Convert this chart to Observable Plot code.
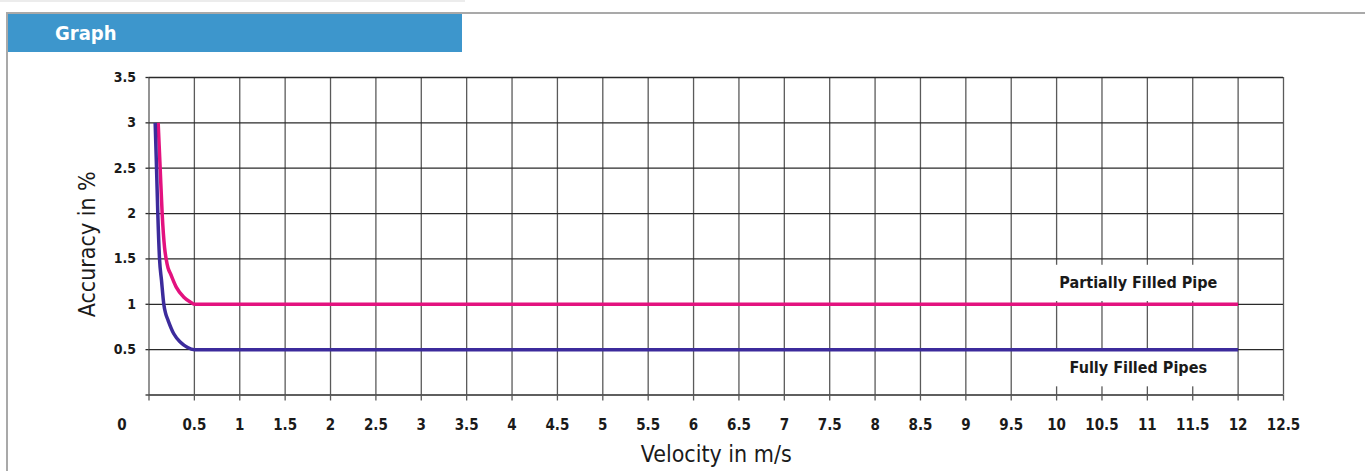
<!DOCTYPE html>
<html>
<head>
<meta charset="utf-8">
<script src="https://cdn.jsdelivr.net/npm/d3@7"></script>
<script src="https://cdn.jsdelivr.net/npm/@observablehq/plot@0.6"></script>
<style>
  html, body { margin: 0; padding: 0; background: #fff; }
  #wrap { position: relative; width: 1365px; height: 471px; overflow: hidden; font-family: "DejaVu Sans Condensed", "Liberation Sans Narrow", sans-serif; }
  #topline { position: absolute; left: 0; top: 0; width: 465px; height: 2px; background: #ececec; }
  #panel { position: absolute; left: 6px; top: 12px; right: 0; bottom: 0; border-top: 2px solid #a9a9a9; border-left: 2px solid #a9a9a9; }
  #header { position: absolute; left: 8px; top: 14px; width: 454px; height: 38px; background: #3d96cc; color: #fff; font-weight: bold; font-size: 20px; line-height: 38px; box-sizing: border-box; padding-left: 47px; }
  #chart { position: absolute; left: 0; top: 52px; }
</style>
</head>
<body>
<div id="wrap">
  <div id="topline"></div>
  <div id="panel"></div>
  <div id="header">Graph</div>
  <div id="chart"></div>
</div>
<script>
// Tick values
const xTicks = [0, 0.5, 1, 1.5, 2, 2.5, 3, 3.5, 4, 4.5, 5, 5.5, 6, 6.5, 7, 7.5, 8, 8.5, 9, 9.5, 10, 10.5, 11, 11.5, 12, 12.5];
const yTicks = [0, 0.5, 1, 1.5, 2, 2.5, 3, 3.5];

// Partially filled pipe
const partialX = [0.101, 0.123, 0.145, 0.172, 0.189, 0.21, 0.237, 0.30, 0.384, 0.458, 0.5, 12];
const partialY = [3.0, 2.5, 2.0, 1.62, 1.5, 1.40, 1.336, 1.189, 1.078, 1.023, 1.0, 1.0];

// Fully filled pipes
const fullX = [0.068, 0.083, 0.097, 0.116, 0.138, 0.163, 0.183, 0.211, 0.273, 0.347, 0.421, 0.5, 12];
const fullY = [3.0, 2.5, 2.0, 1.5, 1.262, 1.0, 0.90, 0.821, 0.675, 0.582, 0.527, 0.5, 0.5];

// Series labels (label centre, in data units)
const labelText = ["Partially Filled Pipe", "Fully Filled Pipes"];
const labelX = [10.9, 10.9];
const labelY = [1.24, 0.30];

const partial = partialX.map((x, i) => ({x, y: partialY[i]}));
const full = fullX.map((x, i) => ({x, y: fullY[i]}));
const labels = labelText.map((t, i) => ({t, x: labelX[i], y: labelY[i]}));

const font = '"DejaVu Sans Condensed", "Liberation Sans Narrow", sans-serif';

const chart = Plot.plot({
  width: 1365,
  height: 419,
  marginLeft: 148.5,
  marginRight: 82,
  marginTop: 25,
  marginBottom: 76.5,
  style: {fontFamily: font, background: "transparent", color: "#1a1a1a"},
  x: {domain: [0, 12.5]},
  y: {domain: [0, 3.5]},
  marks: [
    // vertical grid
    Plot.ruleX(xTicks, {y1: 0, y2: 3.5, stroke: "#5a5a5a", strokeWidth: 1.3}),
    // horizontal grid
    Plot.ruleY(yTicks, {x1: 0, x2: 12.5, stroke: "#2a2a2a", strokeWidth: 1.3}),
    Plot.axisX({
      ticks: xTicks, tickSize: 6, tickPadding: 18, stroke: "#5a5a5a", strokeWidth: 1.3,
      tickFormat: d => d === 0 ? "" : String(d), fontSize: 15, fontWeight: "bold", label: null
    }),
    Plot.axisY({
      ticks: yTicks, tickSize: 3, tickPadding: 10, stroke: "#2a2a2a", strokeWidth: 1.3,
      tickFormat: d => d === 0 ? "" : String(d), fontSize: 14, fontWeight: "bold", label: null
    }),
    // corner zero
    Plot.text(["0"], {x: 0, y: 0, dx: -27, dy: 24, lineAnchor: "top", fontSize: 15, fontWeight: "bold"}),
    // label backgrounds
    Plot.rect(labels, {x1: d => d.x - 0.95, x2: d => d.x + 0.97, y1: d => d.y - 0.21, y2: d => d.y + 0.19, fill: "white"}),
    Plot.line(partial, {x: "x", y: "y", stroke: "#e3127f", strokeWidth: 3.5, curve: "monotone-x", strokeLinecap: "butt"}),
    Plot.line(full, {x: "x", y: "y", stroke: "#3c2b9c", strokeWidth: 3.5, curve: "monotone-x", strokeLinecap: "butt"}),
    Plot.text(labels, {x: "x", y: "y", text: "t", fontSize: 16, fontWeight: "bold", fill: "#1a1a1a"}),
    // axis titles
    Plot.text(["Velocity in m/s"], {frameAnchor: "bottom", lineAnchor: "bottom", textAnchor: "middle", dy: 67, fontSize: 23, fill: "#1a1a1a"}),
    Plot.text(["Accuracy in %"], {frameAnchor: "left", textAnchor: "middle", rotate: -90, dx: -61, dy: 8, fontSize: 23, fill: "#1a1a1a"})
  ]
});
document.getElementById("chart").appendChild(chart);
</script>
</body>
</html>
